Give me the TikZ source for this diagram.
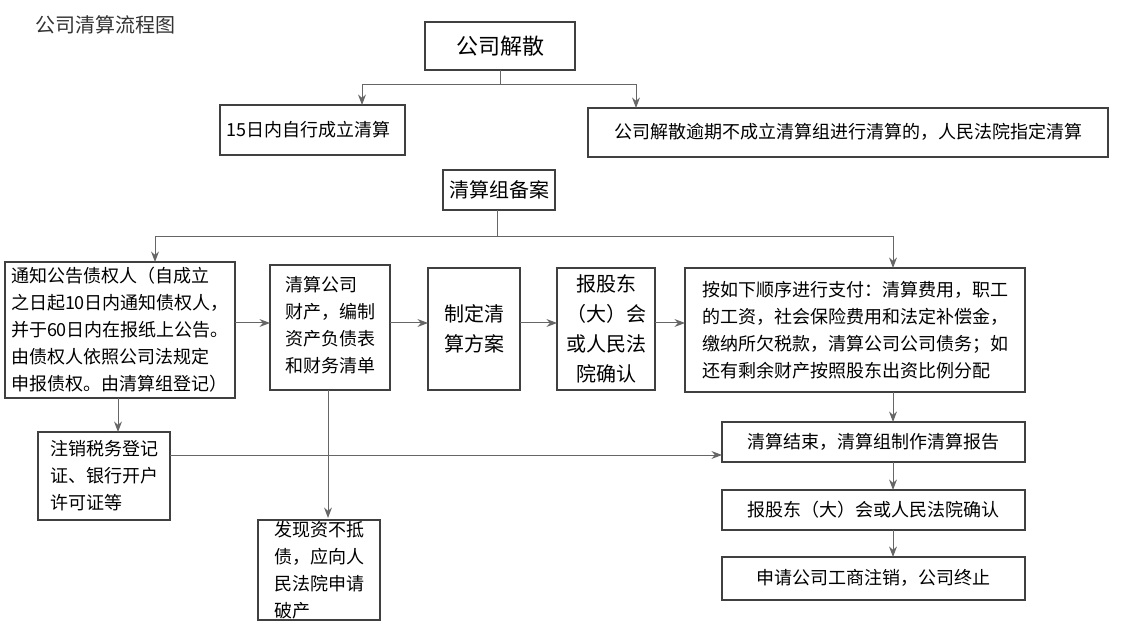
\documentclass[tikz,border=0pt]{standalone}
\usepackage{fontspec}
\setmainfont{Noto Sans CJK SC}
\usetikzlibrary{arrows.meta}
\tikzset{
  stepbox/.style={draw=black!75, line width=0.8pt, inner sep=3pt, align=left, font=\fontsize{9}{13.5}\selectfont},
  flow/.style={-Stealth, draw=black!60, line width=0.5pt}
}
\begin{document}
\begin{tikzpicture}[x=0.5pt, y=-0.5pt]
        \useasboundingbox (0, 0) rectangle (1128, 640);
        \node [anchor=west, font=\fontsize{10}{12}\selectfont, text=black!80] (title) at (28, 25) {公司清算流程图};

        \draw[stepbox] (425, 22) rectangle (575, 70);
        \node [font=\fontsize{11}{13}\selectfont] (dissolve) at (500, 46) {公司解散};
        \draw[stepbox] (220, 105) rectangle (405, 155);
        \node [stepbox, draw=none, anchor=west] (self) at (220, 130) {15日内自行成立清算};
        \draw[stepbox] (588, 108) rectangle (1108, 157);
        \node [stepbox, draw=none] (court) at (848, 132) {公司解散逾期不成立清算组进行清算的，人民法院指定清算};
        \draw[stepbox] (443, 170) rectangle (555, 210);
        \node [font=\fontsize{10}{12}\selectfont] (record) at (499, 190) {清算组备案};

        \draw[stepbox] (5, 262) rectangle (235, 398);
        \node [stepbox, draw=none] (notify) at (120, 330) {通知公告债权人（自成立\\之日起10日内通知债权人，\\并于60日内在报纸上公告。\\由债权人依照公司法规定\\申报债权。由清算组登记）};
        \draw[stepbox] (270, 265) rectangle (390, 390);
        \node [stepbox, draw=none] (assets) at (330, 325) {清算公司\\财产，编制\\资产负债表\\和财务清单};
        \draw[stepbox] (428, 268) rectangle (520, 390);
        \node [stepbox, draw=none, font=\fontsize{10}{15}\selectfont] (plan) at (474, 329) {制定清\\算方案};
        \draw[stepbox] (557, 268) rectangle (655, 390);
        \node [stepbox, draw=none, align=center, font=\fontsize{10}{15}\selectfont] (confirm) at (606, 329) {报股东\\（大）会\\或人民法\\院确认};
        \draw[stepbox] (685, 268) rectangle (1025, 392);
        \node [stepbox, draw=none] (pay) at (855, 330) {按如下顺序进行支付：清算费用，职工\\的工资，社会保险费用和法定补偿金，\\缴纳所欠税款，清算公司公司债务；如\\还有剩余财产按照股东出资比例分配};

        \draw[stepbox] (38, 432) rectangle (170, 520);
        \node [stepbox, draw=none] (cancel) at (104, 476) {注销税务登记\\证、银行开户\\许可证等};
        \draw[stepbox] (258, 520) rectangle (380, 620);
        \node [stepbox, draw=none] (bankrupt) at (319, 570) {发现资不抵\\债，应向人\\民法院申请\\破产};
        \draw[stepbox] (722, 422) rectangle (1025, 462);
        \node [stepbox, draw=none] (report) at (873, 442) {清算结束，清算组制作清算报告};
        \draw[stepbox] (722, 490) rectangle (1025, 530);
        \node [stepbox, draw=none] (confirm2) at (873, 510) {报股东（大）会或人民法院确认};
        \draw[stepbox] (722, 557) rectangle (1025, 600);
        \node [stepbox, draw=none] (end) at (873, 578) {申请公司工商注销，公司终止};

        % connectors
        \coordinate (top) at (500, 85);
        \draw[draw=black!60] (500, 70) -- (top);
        \draw[flow] (top) -| (362, 105);
        \draw[flow] (top) -| (636, 108);
        \draw[draw=black!60] (497, 210) -- (497, 237);
        \draw[flow] (497, 237) -| (155, 262);
        \draw[flow] (497, 237) -| (893, 268);
        \draw[flow] (235, 323) -- (270, 323);
        \draw[flow] (390, 323) -- (428, 323);
        \draw[flow] (520, 323) -- (557, 323);
        \draw[flow] (655, 323) -- (685, 323);
        \draw[flow] (118, 398) -- (118, 432);
        \draw[flow] (328, 390) -- (328, 518);
        \draw[flow] (170, 455) -- (722, 455);
        \draw[flow] (893, 392) -- (893, 422);
        \draw[flow] (893, 462) -- (893, 490);
        \draw[flow] (893, 530) -- (893, 557);
    \end{tikzpicture}
\end{document}
